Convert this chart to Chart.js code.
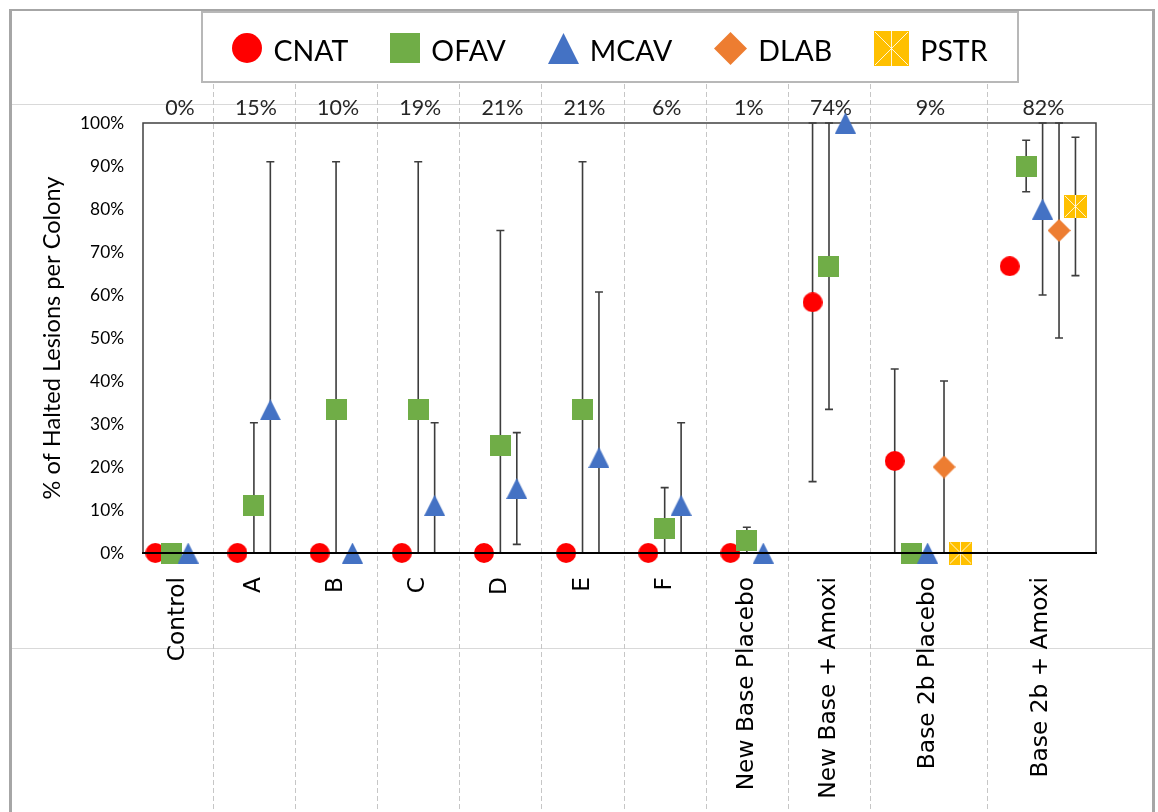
<!DOCTYPE html>
<html>
<head>
<meta charset="utf-8">
<title>% of Halted Lesions per Colony</title>
<script src="https://cdn.jsdelivr.net/npm/chart.js@4.4.1/dist/chart.umd.min.js"></script>
<style>
html,body{margin:0;padding:0;background:#ffffff;overflow:hidden;}
#chart{display:block;}
</style>
</head>
<body>
<canvas id="chart" width="1158" height="812"></canvas>
<script>
// ---------------- data ----------------
const categories = ['Control', 'A', 'B', 'C', 'D', 'E', 'F',
  'New Base Placebo', 'New Base + Amoxi', 'Base 2b Placebo', 'Base 2b + Amoxi'];
const haltedTotal = [0, 15, 10, 19, 21, 21, 6, 1, 74, 9, 82];          // % shown above each group
const groupX = [1, 2, 3, 4, 5, 6, 7, 8, 9, 10, 11.4];                  // x value of each group
const species = ['CNAT', 'OFAV', 'MCAV', 'DLAB', 'PSTR'];
const yTicks = [0, 10, 20, 30, 40, 50, 60, 70, 80, 90, 100];

const cnatMean = [0, 0, 0, 0, 0, 0, 0, 0, 58.3, 21.4, 66.7];
const cnatSD   = [0, 0, 0, 0, 0, 0, 0, 0, 41.7, 21.4, 0];
const ofavMean = [0, 11.1, 33.3, 33.3, 25, 33.3, 5.6, 3, 66.7, 0, 90];
const ofavSD   = [0, 19.2, 57.7, 57.7, 50, 57.7, 9.6, 3, 33.3, 0, 6];
const mcavMean = [0, 33.3, 0, 11.1, 15, 22.2, 11.1, 0, 100, 0, 80];
const mcavSD   = [0, 57.7, 0, 19.2, 13, 38.5, 19.2, 0, 0, 0, 20];
const dlabMean = [null, null, null, null, null, null, null, null, null, 20, 75];
const dlabSD   = [null, null, null, null, null, null, null, null, null, 20, 25];
const pstrMean = [null, null, null, null, null, null, null, null, null, 0, 80.6];
const pstrSD   = [null, null, null, null, null, null, null, null, null, 0, 16.1];

// ---------------- layout / style ----------------
const W = 1158, H = 812;
const columnEdges = [0.65, 1.5, 2.5, 3.5, 4.5, 5.5, 6.5, 7.5, 8.5, 9.5, 10.92, 12.25];
const seriesOffset = [-0.2, 0, 0.2, 0.4, 0.6];
const speciesColors = ['#FF0000', '#70AD47', '#4472C4', '#ED7D31', '#FFC000'];
const speciesShapes = ['circle', 'square', 'triangle', 'diamond', 'star'];
const markerSizes = [20, 21, 21, 23, 23];
const legendMarkerSizes = [30, 30, 31, 33, 35];

const LATO = 'Lato, Carlito, "Liberation Sans", sans-serif';
const DEJAVU = '"DejaVu Sans", Verdana, sans-serif';
const mctx = document.createElement('canvas').getContext('2d');
function fitSize(family, text, target) {
  mctx.font = '100px ' + family;
  return Math.round(1000 * target / mctx.measureText(text).width) / 10;
}
const legendFontSize = fitSize(LATO, 'CNAT', 75);
const topFontSize = fitSize(LATO, '15%', 42);
const tickFontSize = fitSize(LATO, '100%', 44);
const titleFontSize = fitSize(LATO, '% of Halted Lesions per Colony', 323);
const catFontSize = fitSize(DEJAVU, 'New Base Placebo', 213);

function makeMarker(shape, size, color) {
  const c = document.createElement('canvas');
  c.width = size; c.height = size;
  const g = c.getContext('2d');
  g.fillStyle = color;
  const s = size;
  if (shape === 'circle') {
    g.beginPath(); g.arc(s / 2, s / 2, s / 2, 0, Math.PI * 2); g.fill();
  } else if (shape === 'square') {
    g.fillRect(0, 0, s, s);
  } else if (shape === 'triangle') {
    g.beginPath(); g.moveTo(s / 2, 0); g.lineTo(s, s); g.lineTo(0, s); g.closePath(); g.fill();
  } else if (shape === 'diamond') {
    g.beginPath(); g.moveTo(s / 2, 0); g.lineTo(s, s / 2); g.lineTo(s / 2, s); g.lineTo(0, s / 2); g.closePath(); g.fill();
  } else if (shape === 'star') {
    g.fillRect(0, 0, s, s);
    g.strokeStyle = 'rgba(255,255,255,0.85)';
    g.lineWidth = 1;
    g.beginPath();
    g.moveTo(1, 1); g.lineTo(s - 1, s - 1);
    g.moveTo(s - 1, 1); g.lineTo(1, s - 1);
    g.moveTo(s / 2, 0); g.lineTo(s / 2, s);
    g.stroke();
  }
  return c;
}

const meansBySpecies = [cnatMean, ofavMean, mcavMean, dlabMean, pstrMean];
const sdBySpecies = [cnatSD, ofavSD, mcavSD, dlabSD, pstrSD];

const datasets = species.map((name, s) => ({
  label: name,
  data: meansBySpecies[s]
    .map((v, i) => (v === null ? null : { x: groupX[i] + seriesOffset[s], y: v, sd: sdBySpecies[s][i] }))
    .filter(p => p !== null),
  pointStyle: makeMarker(speciesShapes[s], markerSizes[s], speciesColors[s]),
  legendMarker: makeMarker(speciesShapes[s], legendMarkerSizes[s], speciesColors[s]),
  pointRadius: markerSizes[s] / 2,
  pointHoverRadius: markerSizes[s] / 2,
  backgroundColor: speciesColors[s],
  borderColor: speciesColors[s],
  showLine: false,
  clip: false,
  order: species.length - s
}));

// ---------------- plugins ----------------
const backdrop = {
  id: 'backdrop',
  beforeDraw(chart) {
    const { ctx, scales: { x } } = chart;
    const area = chart.chartArea;
    ctx.save();
    ctx.fillStyle = '#ffffff';
    ctx.fillRect(0, 0, W, H);
    // sheet rules
    ctx.fillStyle = '#d9d9d9';
    ctx.fillRect(12, 104, 1140, 1);
    ctx.fillRect(12, 648, 1140, 1);
    // dashed column borders
    ctx.strokeStyle = '#c6c6c6';
    ctx.lineWidth = 1;
    ctx.setLineDash([5, 3]);
    for (let k = 1; k < columnEdges.length - 1; k++) {
      const px = Math.round(x.getPixelForValue(columnEdges[k])) + 0.5;
      ctx.beginPath(); ctx.moveTo(px, 84); ctx.lineTo(px, H); ctx.stroke();
    }
    ctx.setLineDash([]);
    // outer frame
    ctx.fillStyle = '#a6a6a6';
    ctx.fillRect(9, 9, 1146, 2);
    ctx.fillRect(9, 9, 3, H - 9);
    ctx.fillRect(1152, 9, 3, H - 9);
    // legend box
    ctx.fillStyle = '#ffffff';
    ctx.fillRect(202, 12, 816, 70);
    ctx.strokeStyle = '#b8b8b8';
    ctx.lineWidth = 2;
    ctx.strokeRect(202, 12, 816, 70);
    // legend items
    ctx.font = legendFontSize + 'px ' + LATO;
    ctx.fillStyle = '#000000';
    ctx.textBaseline = 'alphabetic';
    ctx.textAlign = 'left';
    const gapMarkerText = 11, gapItems = 42;
    const items = chart.data.datasets.map(ds => ({ mk: ds.legendMarker, text: ds.label, tw: ctx.measureText(ds.label).width }));
    let total = 0;
    items.forEach((it, i) => { total += it.mk.width + gapMarkerText + it.tw + (i ? gapItems : 0); });
    let cx = 610 - total / 2;
    items.forEach((it, i) => {
      if (i) cx += gapItems;
      ctx.drawImage(it.mk, Math.round(cx), Math.round(48 - it.mk.height / 2));
      cx += it.mk.width + gapMarkerText;
      ctx.fillText(it.text, cx, 61);
      cx += it.tw;
    });
    // group totals above the plot
    ctx.font = topFontSize + 'px ' + LATO;
    ctx.fillStyle = '#262626';
    ctx.textAlign = 'center';
    for (let i = 0; i < categories.length; i++) {
      const l = i === 0 ? area.left : x.getPixelForValue(columnEdges[i]);
      const r = i === categories.length - 1 ? area.right : x.getPixelForValue(columnEdges[i + 1]);
      ctx.fillText(haltedTotal[i] + '%', (l + r) / 2 + 2, 115);
    }
    // category labels (rotated)
    ctx.font = catFontSize + 'px ' + DEJAVU;
    ctx.fillStyle = '#000000';
    ctx.textAlign = 'right';
    ctx.textBaseline = 'middle';
    for (let i = 0; i < categories.length; i++) {
      const l = i === 0 ? area.left : x.getPixelForValue(columnEdges[i]);
      const r = i === categories.length - 1 ? area.right : x.getPixelForValue(columnEdges[i + 1]);
      ctx.save();
      ctx.translate((l + r) / 2, 577);
      ctx.rotate(-Math.PI / 2);
      ctx.fillText(categories[i], 0, 0);
      ctx.restore();
    }
    ctx.restore();
  },
  beforeDatasetsDraw(chart) {
    const { ctx, scales: { x, y } } = chart;
    const a = chart.chartArea;
    ctx.save();
    ctx.strokeStyle = '#404040';
    ctx.lineWidth = 1.5;
    ctx.strokeRect(a.left, a.top, a.right - a.left, a.bottom - a.top);
    // error bars
    ctx.strokeStyle = '#3d3d3d';
    ctx.lineWidth = 1.6;
    chart.data.datasets.forEach(ds => {
      ds.data.forEach(p => {
        if (!p.sd) return;
        const lo = Math.max(0, p.y - p.sd), hi = Math.min(100, p.y + p.sd);
        const px = x.getPixelForValue(p.x);
        const pl = y.getPixelForValue(lo), ph = y.getPixelForValue(hi);
        ctx.beginPath();
        ctx.moveTo(px, pl); ctx.lineTo(px, ph);
        ctx.moveTo(px - 4, ph); ctx.lineTo(px + 4, ph);
        if (lo > 0) { ctx.moveTo(px - 4, pl); ctx.lineTo(px + 4, pl); }
        ctx.stroke();
      });
    });
    ctx.restore();
  },
  afterDatasetsDraw(chart) {
    const { ctx } = chart;
    const a = chart.chartArea;
    ctx.save();
    ctx.fillStyle = '#000000';
    ctx.fillRect(a.left - 1, a.bottom - 1, a.right - a.left + 2, 2);
    ctx.restore();
  }
};

const titleLineHeight = titleFontSize * 1.2;

new Chart(document.getElementById('chart'), {
  type: 'scatter',
  data: { datasets },
  plugins: [backdrop],
  options: {
    responsive: false,
    devicePixelRatio: 1,
    animation: false,
    events: [],
    layout: { padding: { top: 123, bottom: H - 553, left: 12, right: W - 1096 } },
    plugins: { legend: { display: false }, tooltip: { enabled: false } },
    scales: {
      x: {
        type: 'linear',
        min: columnEdges[0],
        max: columnEdges[columnEdges.length - 1],
        display: false
      },
      y: {
        type: 'linear',
        min: 0,
        max: 100,
        afterFit(scale) { scale.width = 143 - 12; },
        afterBuildTicks(scale) { scale.ticks = yTicks.map(v => ({ value: v })); },
        grid: { display: false, drawTicks: false },
        border: { display: false },
        ticks: {
          padding: 19,
          color: '#000000',
          font: { family: LATO, size: tickFontSize },
          callback: v => v + '%'
        },
        title: {
          display: true,
          text: '% of Halted Lesions per Colony',
          color: '#000000',
          font: { family: LATO, size: titleFontSize },
          padding: { top: 40 - titleLineHeight / 2, bottom: 0 }
        }
      }
    }
  }
});
</script>
</body>
</html>
